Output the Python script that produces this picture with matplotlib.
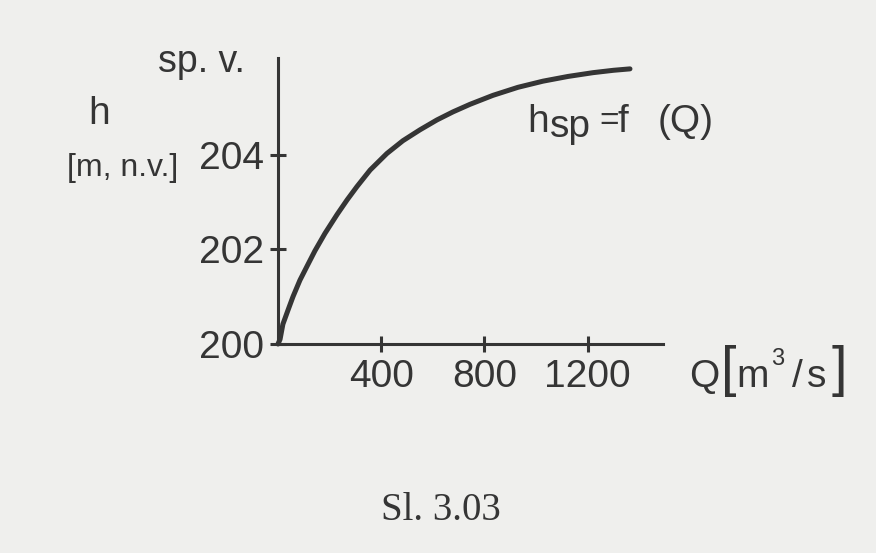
import matplotlib
matplotlib.use("Agg")
import matplotlib.pyplot as plt

# values
q_values = [0, 8, 19, 39, 58, 85, 112, 143, 182, 229, 268, 306, 357, 422, 484,
            550, 616, 678, 744, 833, 930, 1027, 1124, 1221, 1300, 1364]
h_values = [200.0, 200.1, 200.42, 200.72, 201.0, 201.35, 201.64, 201.97, 202.34,
            202.74, 203.05, 203.33, 203.68, 204.03, 204.3, 204.53, 204.74, 204.91,
            205.07, 205.26, 205.43, 205.56, 205.66, 205.74, 205.79, 205.82]
x_ticks = [400, 800, 1200]
y_ticks = [200, 202, 204]

ink = "#353535"
paper = "#efefed"
W, H = 876, 553

plt.rcParams["font.family"] = ["Liberation Sans", "DejaVu Sans"]

fig = plt.figure(figsize=(W / 100, H / 100), dpi=100, facecolor=paper)

def px(x, y):
    # pixel position in the picture -> figure fraction
    return x / W, 1 - y / H

left, top = px(278, 58)
right, bottom = px(663, 344)
ax = fig.add_axes([left, bottom, right - left, top - bottom])
ax.set_facecolor("none")

ax.plot(q_values, h_values, color=ink, lw=3.6, solid_capstyle="round",
        solid_joinstyle="round", clip_on=False)

ax.set_xlim(0, 1492)
ax.set_ylim(200, 206.05)
ax.set_xticks(x_ticks)
ax.set_yticks(y_ticks)
ax.set_xticklabels([str(v) for v in x_ticks])
ax.set_yticklabels([str(v) for v in y_ticks])

for s in ["top", "right"]:
    ax.spines[s].set_visible(False)
for s in ["left", "bottom"]:
    ax.spines[s].set_color(ink)
    ax.spines[s].set_linewidth(2.2)

ax.tick_params(direction="inout", length=11.5, width=2.2, color=ink,
               labelcolor=ink, labelsize=28)
ax.tick_params(axis="y", pad=4)
ax.tick_params(axis="x", pad=5)

def label(x, y, s, size=28, **kw):
    fx, fy = px(x, y)
    fig.text(fx, fy, s, fontsize=size, color=ink, **kw)

narrow = ["Liberation Sans Narrow", "Liberation Sans", "DejaVu Sans"]

# y axis labels
label(201, 62, "sp. v.", size=27, ha="center", va="center")
label(99, 114, "h", size=28, ha="center", va="center")
label(123, 168, "[m, n.v.]", size=23, ha="center", va="center", family=narrow)

# curve label
label(527, 132, "h", ha="left", va="baseline")
label(550, 137, "sp", ha="left", va="baseline")
label(599, 130, "=", size=24, ha="left", va="baseline")
label(617, 132, "f", ha="left", va="baseline")
label(658, 132, "(Q)", ha="left", va="baseline")

# x axis label
label(704, 377, "Q", ha="center", va="center")
label(729, 371, "[", size=40, ha="center", va="center")
label(753, 377, "m", ha="center", va="center")
label(778, 359, "3", size=17, ha="center", va="center")
label(797, 377, "/", ha="center", va="center")
label(817, 377, "s", ha="center", va="center")
label(839, 371, "]", size=40, ha="center", va="center")

# caption
fx, fy = px(441, 511)
fig.text(fx, fy, "Sl. 3.03", fontsize=28, color=ink, ha="center", va="center",
         family=["Liberation Serif", "DejaVu Serif"])

fig.savefig("out.png", dpi=100, facecolor=paper)
